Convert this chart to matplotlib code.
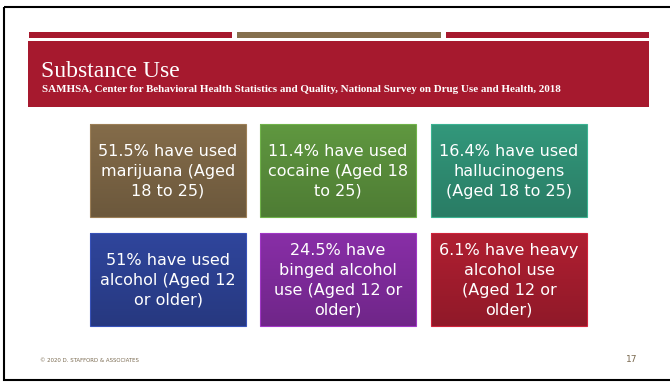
import numpy as np
import matplotlib
matplotlib.use("Agg")
import matplotlib.pyplot as plt
from matplotlib.colors import to_rgb

# Slide content ------------------
title = "Substance Use"
subtitle = ("SAMHSA, Center for Behavioral Health Statistics and Quality, "
            "National Survey on Drug Use and Health, 2018")
box_texts = [
    "51.5% have used\nmarijuana (Aged\n18 to 25)",
    "11.4% have used\ncocaine (Aged 18\nto 25)",
    "16.4% have used\nhallucinogens\n(Aged 18 to 25)",
    "51% have used\nalcohol (Aged 12\nor older)",
    "24.5% have\nbinged alcohol\nuse (Aged 12 or\nolder)",
    "6.1% have heavy\nalcohol use\n(Aged 12 or\nolder)",
]
box_colors = ["#786243", "#578a3a", "#2e8a70", "#2b3f8e", "#7c2a98", "#a01c2d"]
footer = "© 2020 D. STAFFORD & ASSOCIATES"
page = "17"
# --------------------------------

W, H = 670, 382
fig = plt.figure(figsize=(W / 100, H / 100), dpi=100)
ax = fig.add_axes([0, 0, 1, 1])
ax.axis("off")

# slide frame (right edge falls just outside the image)
ax.add_patch(plt.Rectangle((4, 7), 670, 373, fill=False, ec="black", lw=1.5))

# top stripes and header band
red = "#a6192e"
for x0, x1, c in [(29, 232, red), (237, 441, "#85704e"), (446, 649, red)]:
    ax.add_patch(plt.Rectangle((x0, 32), x1 - x0, 6, color=c, lw=0))
ax.add_patch(plt.Rectangle((28, 41), 621, 66, color=red, lw=0))
ax.text(41, 77, title, color="white", fontsize=17, family="Liberation Serif",
        va="baseline")
ax.text(42, 92, subtitle, color="white", fontsize=7.9, family="Liberation Serif",
        weight="bold", va="baseline")

# boxes
xs = [90, 260, 431]
ys = [124, 233]
bw, bh = 156, 93
for i, (txt, col) in enumerate(zip(box_texts, box_colors)):
    x0 = xs[i % 3]
    y0 = ys[i // 3]
    base = np.array(to_rgb(col))
    t = np.linspace(0, 1, 50)[:, None]
    grad = np.clip(base * (1.1 - 0.2 * t), 0, 1)[:, None, :]
    ax.imshow(grad, extent=(x0, x0 + bw, y0 + bh, y0), aspect="auto", zorder=2)
    ax.add_patch(plt.Rectangle((x0, y0), bw, bh, fill=False,
                               ec=np.clip(base * 1.3, 0, 1), lw=0.8, zorder=3))
    ax.text(x0 + bw / 2, y0 + bh / 2 + 1, txt, color="white", fontsize=11.5,
            ha="center", va="center", linespacing=1.4, zorder=4)

ax.set_xlim(0, W)
ax.set_ylim(H, 0)

# footer
ax.text(40, 361, footer, color="#7a6a50", fontsize=4.3, va="center",
        fontstretch="condensed")
ax.text(632, 360, page, color="#7a6a50", fontsize=6.5, va="center", ha="center")

fig.savefig("out.png", dpi=100)
